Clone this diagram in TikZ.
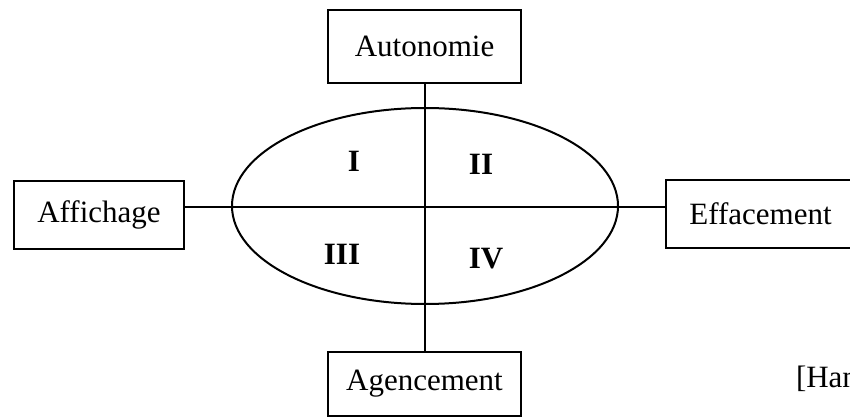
\documentclass[tikz,border=0pt]{standalone}
\usepackage{fontspec}
\setmainfont{Liberation Serif}
\usetikzlibrary{shapes.geometric}
\begin{document}
\begin{tikzpicture}[x=1pt,y=-1pt,
  line width=2pt,
  box/.style={draw, rectangle, inner sep=0pt, font=\fontsize{31}{36}\selectfont},
  quad/.style={inner sep=0pt, font=\fontsize{31}{35}\selectfont\bfseries},
  ref/.style={inner sep=0pt, font=\fontsize{31}{36}\selectfont}]
\useasboundingbox (0,0) rectangle (850,419);
\clip (0,0) rectangle (850,419);
\coordinate (c) at (425,207);
\node[draw, ellipse, inner sep=0pt, minimum width=386pt, minimum height=196pt] (ell) at (425,206) {};
\node[box, minimum width=193pt, minimum height=73pt] (auto) at (424.5,46.5) {Autonomie};
\node[box, minimum width=193pt, minimum height=64pt] (agen) at (424.5,384) {Agencement};
\node[box, minimum width=170pt, minimum height=68pt] (aff) at (99,215) {Affichage};
\node[box, minimum width=189pt, minimum height=68pt] (eff) at (760.5,214) {Effacement};
\draw (auto.south) -- (agen.north);
\draw (aff.east |- c) -- (eff.west |- c);
\node[quad] (q1) at (354,161) {I};
\node[quad] (q2) at (481,164) {II};
\node[quad] (q3) at (342,254) {III};
\node[quad] (q4) at (486,259) {IV};
\node[ref, anchor=base west] (han) at (795,387) {[Hamon]};
\end{tikzpicture}
\end{document}
